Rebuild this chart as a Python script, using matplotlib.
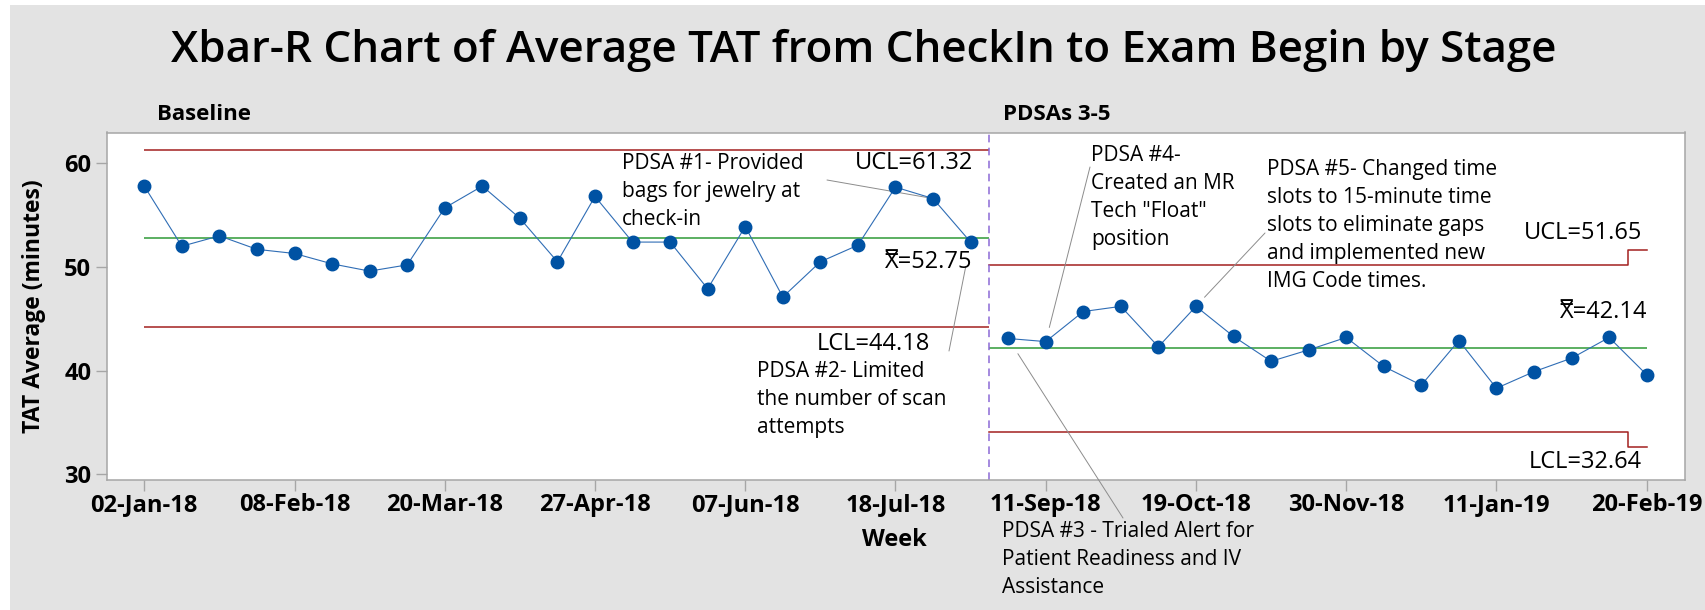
import matplotlib
matplotlib.use('Agg')
import matplotlib.pyplot as plt
from matplotlib.patches import Rectangle
import numpy as np

plt.rcParams['font.family'] = ['Open Sans', 'DejaVu Sans']

W, H = 1706, 610

# weekly averages, one point per week
week_labels = ['02-Jan-18', '08-Feb-18', '20-Mar-18', '27-Apr-18', '07-Jun-18', '18-Jul-18',
               '11-Sep-18', '19-Oct-18', '30-Nov-18', '11-Jan-19', '20-Feb-19']
baseline_avg = [57.8, 52.0, 53.0, 51.7, 51.3, 50.3, 49.6, 50.2, 55.7, 57.8, 54.7, 50.5,
                56.8, 52.4, 52.4, 47.9, 53.9, 47.1, 50.5, 52.1, 57.7, 56.6, 52.4]
pdsa_avg = [43.1, 42.8, 45.7, 46.2, 42.3, 46.2, 43.3, 40.9, 42.0, 43.2, 40.4, 38.6,
            42.9, 38.3, 39.9, 41.2, 43.2, 39.6]

# control limits: UCL, center, LCL
baseline_limits = [61.32, 52.75, 44.18]
pdsa_ucl = [50.20, 51.65]   # last subgroup has a different size
pdsa_center = 42.14
pdsa_lcl = [34.08, 32.64]

BLUE = '#0052a3'
RED = '#a3201f'
GREEN = '#2f9a37'
GRAY = '#a6a6a6'


def fp(x, y):
    # position measured from the top-left of the picture -> figure pixels
    return (x, H - y)


fig = plt.figure(figsize=(W / 100, H / 100), dpi=100)
fig.patch.set_facecolor('white')
fig.patches.append(Rectangle((10 / W, 0), 1 - 10 / W, 1 - 5 / H, transform=fig.transFigure,
                             facecolor='#e3e3e3', edgecolor='none', zorder=-5))

ax = fig.add_axes([106.7 / W, 1 - 480 / H, (1685 - 106.7) / W, (480 - 132.5) / H])

nb = len(baseline_avg)
x_base = np.arange(nb)
x_pdsa = np.arange(nb, nb + len(pdsa_avg))
split = nb - 0.5
last = x_pdsa[-1]

# control lines
ax.hlines(baseline_limits[0], 0, split, color=RED, lw=1.1)
ax.hlines(baseline_limits[1], 0, split, color=GREEN, lw=1.1)
ax.hlines(baseline_limits[2], 0, split, color=RED, lw=1.1)
ax.plot([split, last - 0.5, last - 0.5, last], [pdsa_ucl[0], pdsa_ucl[0], pdsa_ucl[1], pdsa_ucl[1]],
        color=RED, lw=1.1)
ax.plot([split, last - 0.5, last - 0.5, last], [pdsa_lcl[0], pdsa_lcl[0], pdsa_lcl[1], pdsa_lcl[1]],
        color=RED, lw=1.1)
ax.hlines(pdsa_center, split, last, color=GREEN, lw=1.1)
ax.axvline(split, color='#8b6ad6', lw=1.1, ls=(0, (5, 3.5)))

# the averages
ax.plot(x_base, baseline_avg, color='#2f6db5', lw=0.8, marker='o', ms=9,
        mfc=BLUE, mec=BLUE, zorder=5)
ax.plot(x_pdsa, pdsa_avg, color='#2f6db5', lw=0.8, marker='o', ms=9,
        mfc=BLUE, mec=BLUE, zorder=5)

ax.set_xlim(-1, last + 1.02)
ax.set_ylim(29.45, 62.97)
ax.set_yticks([30, 40, 50, 60])
ax.set_xticks(np.arange(0, last + 1, 4))
ax.set_xticklabels(week_labels)
ax.tick_params(axis='both', length=7.7, width=1, color=GRAY, labelsize=17)
ax.tick_params(axis='x', pad=1.5)
ax.tick_params(axis='y', pad=3.5)
for lab in ax.get_xticklabels() + ax.get_yticklabels():
    lab.set_fontweight('bold')
for sp in ax.spines.values():
    sp.set_color(GRAY)
    sp.set_linewidth(1.1)

# titles and labels
fig.text(*fp(864, 62), 'Xbar-R Chart of Average TAT from CheckIn to Exam Begin by Stage',
         transform=None, ha='center', va='baseline', fontsize=31.6, fontweight='semibold')
fig.text(*fp(157, 120), 'Baseline', transform=None, fontsize=16, fontweight='bold', va='baseline')
fig.text(*fp(1003, 120), 'PDSAs 3-5', transform=None, fontsize=16, fontweight='bold', va='baseline')
fig.text(*fp(894, 546), 'Week', transform=None, fontsize=17, fontweight='bold',
         ha='center', va='baseline')
fig.text(*fp(34, 306), 'TAT Average (minutes)', transform=None, fontsize=16.5,
         fontweight='bold', rotation=90, ha='center', va='center')

# control limit labels
lim_kw = dict(transform=None, fontsize=17, ha='right', va='baseline')
fig.text(*fp(973, 169), 'UCL=%.2f' % baseline_limits[0], **lim_kw)
fig.text(*fp(972, 268), 'X\u033f=%.2f' % baseline_limits[1], **lim_kw)
fig.text(*fp(930, 350), 'LCL=%.2f' % baseline_limits[2], **lim_kw)
fig.text(*fp(1642, 239), 'UCL=%.2f' % pdsa_ucl[1], **lim_kw)
fig.text(*fp(1647, 318), 'X\u033f=%.2f' % pdsa_center, **lim_kw)
fig.text(*fp(1642, 468), 'LCL=%.2f' % pdsa_lcl[1], **lim_kw)

# PDSA notes (y is the baseline of the last line)
note_kw = dict(transform=None, fontsize=15, va='baseline', linespacing=1.43)
fig.text(*fp(622, 225), 'PDSA #1- Provided\nbags for jewelry at\ncheck-in', **note_kw)
fig.text(*fp(757, 433), 'PDSA #2- Limited\nthe number of scan\nattempts', **note_kw)
fig.text(*fp(1002, 593), 'PDSA #3 - Trialed Alert for\nPatient Readiness and IV\nAssistance', **note_kw)
fig.text(*fp(1091, 245), 'PDSA #4-\nCreated an MR\nTech "Float"\nposition', **note_kw)
fig.text(*fp(1267, 287), 'PDSA #5- Changed time\nslots to 15-minute time\nslots to eliminate gaps\n'
         'and implemented new\nIMG Code times.', **note_kw)

leader = dict(arrowstyle='-', color='#8c8c8c', lw=0.7, shrinkA=0)
ax.annotate('', xy=(21, baseline_avg[21]), xytext=fp(827, 180), textcoords='figure pixels',
            arrowprops=dict(leader, shrinkB=0), annotation_clip=False)
ax.annotate('', xy=(22, baseline_avg[22]), xytext=fp(949, 351), textcoords='figure pixels',
            arrowprops=dict(leader, shrinkB=18), annotation_clip=False)
ax.annotate('', xy=(nb, pdsa_avg[0]), xytext=fp(1123, 518), textcoords='figure pixels',
            arrowprops=dict(leader, shrinkB=13), annotation_clip=False)
ax.annotate('', xy=(nb + 1, pdsa_avg[1]), xytext=fp(1090, 167), textcoords='figure pixels',
            arrowprops=dict(leader, shrinkB=10.5), annotation_clip=False)
ax.annotate('', xy=(nb + 5, pdsa_avg[5]), xytext=fp(1265, 233), textcoords='figure pixels',
            arrowprops=dict(leader, shrinkB=9), annotation_clip=False)

fig.savefig('out.png', dpi=100)
